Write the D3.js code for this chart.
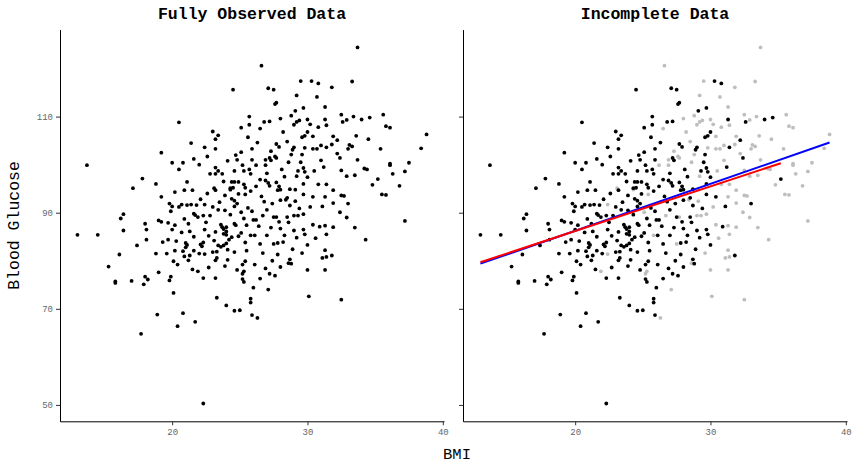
<!DOCTYPE html>
<html>
<head>
<meta charset="utf-8">
<script src="https://cdnjs.cloudflare.com/ajax/libs/d3/7.8.5/d3.min.js"></script>
<style>
body { margin: 0; background: #fff; }
text { font-family: "Liberation Mono", "DejaVu Sans Mono", monospace; }
</style>
</head>
<body>
<div class="container"></div>
<script>
const WIDTH = 852,
      HEIGHT = 464,
      TOP = 29.6,
      BOTTOM = 421.3;

// [BMI, blood glucose] - glucose kept in the incomplete data
var observed = [
  [19.2,102.5],[24.5,115.6],[20.5,108.8],[25.7,110.0],[25.1,107.7],[25.7,108.3],[23.0,106.9],[23.4,106.1],
  [23.2,105.3],[25.6,105.7],[21.4,104.5],[22.4,103.6],[23.2,103.3],[25.9,103.3],[25.1,102.6],[24.7,102.0],
  [21.6,101.2],[25.9,101.0],[24.8,101.0],[20.8,100.4],[20.0,100.4],
  [30.3,117.4],[30.8,116.9],[27.1,115.9],[27.5,115.6],[27.7,112.9],[27.6,112.6],[29.7,111.8],[29.1,111.2],
  [31.3,109.4],[32.6,108.9],[26.8,108.9],[27.2,109.0],[30.0,106.8],[29.8,106.0],[29.6,105.7],[32.2,105.1],
  [26.3,104.6],[27.7,104.3],[27.9,103.7],[29.0,103.6],[28.9,103.1],[31.4,103.6],[29.6,102.1],[27.2,101.4],
  [27.3,100.9],[32.4,101.4],[29.5,100.5],
  [34.0,109.4],[34.6,109.8],[35.2,97.0],[33.0,91.9],
  [13.7,99.9],[17.8,97.1],[18.8,96.0],[17.1,95.1],[19.2,93.3],[16.4,89.7],[16.2,88.8],[18.0,87.7],
  [19.0,88.4],[19.2,88.1],[16.4,86.3],[18.1,86.5],[13.0,85.4],[14.5,85.4],[18.1,84.4],[17.4,83.2],
  [19.3,83.9],[16.1,81.3],[18.8,81.5],[15.3,78.8],[19.0,77.6],[15.8,75.7],[15.8,75.4],[17.0,75.8],
  [18.0,76.7],[18.2,76.1],[17.9,75.1],
  [18.9,68.8],[17.7,64.8],[20.1,73.3],[23.3,72.3],[24.0,70.7],[24.6,69.6],[25.0,69.7],[25.8,72.1],
  [25.8,71.3],[25.9,68.7],[20.8,69.1],[21.7,67.3],[20.4,66.4],[22.3,50.3],[26.0,74.4],
  [20.5,99.0],[22.0,100.0],[23.2,99.4],[23.4,98.7],[22.8,98.1],[23.2,98.1],[23.7,98.1],[24.6,98.7],
  [25.2,99.9],[25.3,98.7],[25.7,99.0],[25.8,98.1],[21.1,96.4],[23.8,96.5],[24.4,96.4],[24.6,96.4],
  [24.9,96.4],[24.3,95.1],[24.5,95.2],[23.2,94.7],[25.3,95.9],[25.4,95.2],[25.8,94.5],[20.9,94.7],
  [20.2,94.3],[21.5,94.7],[24.4,92.9],[24.6,92.5],[19.8,91.9],[20.0,91.3],[20.7,91.7],[21.4,91.7],
  [21.1,91.6],[21.8,91.6],[23.0,91.2],[19.9,90.3],[20.5,91.2],[21.6,89.8],[21.7,89.5],[21.9,89.1],
  [23.4,90.6],[23.9,90.5],[24.6,91.3],[24.8,91.9],[19.7,87.9],[20.2,87.4],[21.2,87.7],[22.3,89.4],
  [22.8,89.4],[23.6,87.5],[23.7,87.0],[23.8,86.6],[24.0,87.0],[24.6,87.7],[24.7,87.4],[25.3,88.8],
  [25.5,87.4],[20.0,86.5],[20.7,85.9],[21.3,86.1],[22.4,86.5],[23.2,86.0],[23.8,85.6],[24.0,86.1],
  [24.0,85.4],[24.2,84.4],[24.4,84.9],[24.9,85.1],[25.1,85.8],[19.7,84.4],[20.3,84.1],[21.0,83.7],
  [21.1,83.3],[22.1,83.4],[22.2,83.0],[22.3,83.8],[23.1,84.2],[23.4,83.2],[23.6,82.9],[23.8,83.2],
  [24.0,83.6],[25.4,83.8],[19.6,81.5],[20.2,82.1],[21.0,82.8],[20.8,82.0],[21.6,82.1],[22.0,81.5],
  [23.0,81.8],[23.3,81.9],[24.1,82.3],[24.6,81.8],[25.5,82.1],[20.1,79.9],[21.2,80.1],[21.3,81.1],
  [20.9,80.9],[20.4,79.2],[23.2,80.1],[23.3,80.6],[24.1,80.2],[25.4,79.9],[25.2,79.2],[19.9,76.7],
  [19.8,75.9],[22.3,76.4],[23.2,76.4],[25.2,76.2],[25.3,75.6],
  [28.1,99.0],[29.3,98.7],[29.7,99.3],[29.8,98.5],[31.2,99.5],[26.5,96.9],[26.9,96.7],[27.1,96.2],
  [27.2,95.6],[26.2,95.5],[27.7,96.3],[27.9,95.5],[27.8,94.7],[28.0,94.8],[28.7,94.9],[30.0,97.4],
  [29.7,96.0],[29.7,93.8],[30.4,93.3],[28.5,93.1],[27.4,91.9],[28.0,92.6],[28.7,91.5],[31.1,91.3],
  [27.5,89.1],[27.9,88.1],[28.5,89.1],[26.0,88.5],[26.2,88.5],[28.0,86.7],[29.0,86.3],[29.7,86.5],
  [29.8,85.5],[30.9,87.1],[26.1,85.3],[27.0,85.3],[28.3,85.3],[29.2,84.8],[28.2,83.9],[27.8,83.7],
  [26.5,83.5],[30.0,83.3],[26.7,81.6],[27.8,81.3],[28.7,80.3],[28.8,79.4],[31.8,81.1],[26.1,79.2],
  [28.0,78.7],[27.2,77.3],[27.6,76.9],[26.5,76.3],
  [22.6,94.0],[23.9,93.6],[24.9,93.9],[22.1,92.8],[23.5,92.2],[25.6,91.0],[26.6,93.4],[27.0,90.6],
  [26.4,87.2],[27.3,86.9],[28.6,88.0],[29.4,90.9],[28.9,82.4],[27.4,80.0],[26.9,78.4],[24.8,78.1],
  [23.9,78.9],[22.7,78.6],[21.5,78.2],[22.7,85.2],[21.6,85.0],[20.9,88.7],[22.5,88.0],[24.3,89.6],
  [25.9,90.3],[26.8,92.3],[28.3,97.5],[27.0,98.2],[24.1,100.8],[22.6,101.7]
];

// [BMI, blood glucose] - glucose dropped in the incomplete data
var dropped = [
  [26.6,120.6],[29.5,117.4],[31.8,116.1],[29.2,114.4],[30.7,114.1],[28.8,110.2],[32.5,110.4],[28.0,109.6],
  [29.4,109.2],[29.2,108.9],[30.0,109.4],[29.0,108.3],[30.2,108.4],[26.5,107.5],[30.8,107.8],[31.4,108.2],
  [30.4,105.9],[31.9,105.9],[28.5,104.8],[31.8,104.2],[31.0,104.0],[29.8,103.5],[30.4,103.3],[30.7,103.3],
  [27.3,102.8],[27.6,101.7],[27.7,101.4],[26.9,101.0],[28.8,102.1],[31.0,100.9],[28.6,100.5],
  [33.7,124.4],[33.3,117.3],[32.9,109.3],[33.4,110.0],[35.6,110.4],[35.8,108.0],[36.1,107.7],[33.6,106.0],
  [38.8,106.3],[33.1,104.1],[33.3,103.8],[33.0,103.3],[35.4,103.3],[38.4,103.4],[33.7,101.0],[37.5,100.4],
  [36.1,100.2],[34.2,99.2],[34.4,99.0],[36.1,99.9],[32.9,97.6],[33.5,97.8],[36.3,98.1],[37.2,98.6],
  [34.8,95.8],[36.8,95.6],[32.7,93.5],[35.5,93.8],[35.8,93.7],[37.2,88.3],[34.3,84.4],
  [27.1,74.0],[30.1,72.6],[32.5,71.9],[26.3,68.1],
  [23.1,95.1],[24.3,94.8],[25.4,93.8],[22.4,91.7],[25.1,90.1],[25.8,85.3],[22.4,81.4],[21.9,77.8],
  [25.3,77.8],[25.2,77.3],
  [26.2,99.9],[26.9,99.9],[29.2,97.6],[30.5,98.7],[32.5,98.8],[29.1,94.8],[31.4,95.9],[31.9,94.7],
  [32.5,93.6],[28.4,92.7],[29.1,92.4],[31.3,93.3],[31.9,92.0],[32.4,90.1],[26.7,89.4],[27.7,89.1],
  [29.0,89.4],[29.3,89.4],[29.7,89.7],[30.4,87.5],[31.3,87.3],[31.9,87.0],[31.4,85.5],[27.5,83.5],
  [28.6,79.5],[31.3,82.2],[31.4,80.8],[31.1,80.6],[30.0,78.1],[31.3,78.1],
  [30.8,95.9],[30.2,91.2],[32.9,89.0],[30.6,84.7],[29.6,81.6],[33.5,86.9],[28.2,106.8],[31.3,112.0],
  [32.2,102.3],[34.5,105.3]
];

// linear fits: [BMI, glucose] at each end
var fullFit = [[13.0, 79.4], [38.8, 104.6]];
var observedFit = [[13.0, 79.7], [35.2, 100.3]];

var xTicks = [20, 30, 40];
var yTicks = [50, 70, 90, 110];
var titles = ['Fully Observed Data', 'Incomplete Data'];

var all = observed.concat(dropped);
var xExt = d3.extent(all, d => d[0]),
    yExt = d3.extent(all, d => d[1]);
var xPad = (xExt[1] - xExt[0]) * 0.05,
    yPad = (yExt[1] - yExt[0]) * 0.05;

var y = d3.scaleLinear().domain([yExt[0] - yPad, yExt[1] + yPad]).range([BOTTOM, TOP]);

var svg = d3.select('.container').append('svg')
    .attr('width', WIDTH).attr('height', HEIGHT);

var panels = [[60, 444], [463, 847]];

panels.forEach(function(p, i) {
  var x = d3.scaleLinear().domain([xExt[0] - xPad, xExt[1] + xPad]).range(p);
  var g = svg.append('g');

  if (i === 1) {
    g.selectAll('circle.gone').data(dropped).enter().append('circle')
      .attr('cx', d => x(d[0])).attr('cy', d => y(d[1])).attr('r', 1.9)
      .attr('fill', '#bebebe');
  }
  var pts = i === 0 ? all : observed;
  g.selectAll('circle.kept').data(pts).enter().append('circle')
    .attr('cx', d => x(d[0])).attr('cy', d => y(d[1])).attr('r', 1.9)
    .attr('fill', '#000');

  if (i === 1) {
    var line = d3.line().x(d => x(d[0])).y(d => y(d[1]));
    g.append('path').datum(fullFit).attr('d', line)
      .attr('stroke', '#0000ff').attr('stroke-width', 2).attr('fill', 'none');
    g.append('path').datum(observedFit).attr('d', line)
      .attr('stroke', '#ff0000').attr('stroke-width', 2).attr('fill', 'none');
  }

  var xAxis = g.append('g').attr('transform', 'translate(0,' + BOTTOM + ')')
    .call(d3.axisBottom(x).tickValues(xTicks).tickSize(4).tickSizeOuter(0).tickPadding(3));
  var yAxis = g.append('g').attr('transform', 'translate(' + p[0] + ',0)')
    .call(d3.axisLeft(y).tickValues(yTicks).tickSize(4).tickSizeOuter(0).tickPadding(3)
      .tickFormat(i === 0 ? d3.format('d') : ''));

  [xAxis, yAxis].forEach(function(a) {
    a.select('.domain').attr('stroke', '#000').attr('stroke-width', 1);
    a.selectAll('.tick line').attr('stroke', '#333');
    a.selectAll('.tick text').attr('fill', '#666')
      .style('font-family', '"Liberation Mono", monospace').style('font-size', '9px');
  });

  svg.append('text')
    .attr('x', (p[0] + p[1]) / 2).attr('y', 19)
    .attr('text-anchor', 'middle').attr('font-weight', 'bold').attr('font-size', 16.5)
    .text(titles[i]);
});

svg.append('text')
  .attr('transform', 'translate(19,' + (TOP + BOTTOM) / 2 + ') rotate(-90)')
  .attr('text-anchor', 'middle').attr('font-size', 16.5)
  .text('Blood Glucose');

svg.append('text')
  .attr('x', 457).attr('y', 459)
  .attr('text-anchor', 'middle').attr('font-size', 15.5)
  .text('BMI');
</script>
</body>
</html>
